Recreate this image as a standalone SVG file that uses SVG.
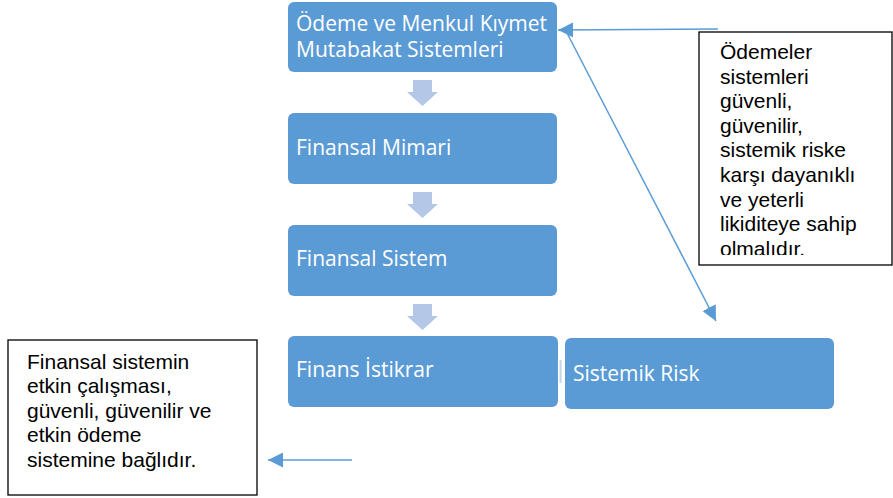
<svg xmlns="http://www.w3.org/2000/svg" width="893" height="498" viewBox="0 0 893 498">
  <style>
    .step { fill: #5B9BD5; }
    .step-label { fill: #FFFFFF; font-family: "Open Sans", "Noto Sans", sans-serif; font-size: 21px; }
    .note { fill: #FFFFFF; stroke: #000000; stroke-width: 1.3; }
    .note-text { fill: #000000; font-family: "Liberation Sans", Arial, sans-serif; font-size: 21px; }
    .flow { fill: #B4C7E7; }
    .link { stroke: #5B9BD5; stroke-width: 1.5; fill: none; }
  </style>
  <defs>
    <marker id="headBig" viewBox="0 0 10 10" refX="10" refY="5" markerWidth="15" markerHeight="15" markerUnits="userSpaceOnUse" orient="auto">
      <path d="M0,0 L10,5 L0,10 Z" fill="#5B9BD5"/>
    </marker>
    <clipPath id="noteClip">
      <rect x="700" y="33" width="192" height="222"/>
    </clipPath>
  </defs>

  <!-- main chain -->
  <g id="odeme-sistemleri">
    <rect class="step" x="288" y="2" width="269" height="70" rx="6"/>
    <text class="step-label" x="296" y="31">Ödeme ve Menkul Kıymet</text>
    <text class="step-label" x="296" y="57">Mutabakat Sistemleri</text>
  </g>
  <g id="finansal-mimari">
    <rect class="step" x="288" y="113" width="269" height="71" rx="6"/>
    <text class="step-label" x="296" y="155">Finansal Mimari</text>
  </g>
  <g id="finansal-sistem">
    <rect class="step" x="288" y="225" width="269" height="71" rx="6"/>
    <text class="step-label" x="296" y="266">Finansal Sistem</text>
  </g>
  <g id="finans-istikrar">
    <rect class="step" x="288" y="336" width="270" height="71" rx="6"/>
    <text class="step-label" x="296" y="377">Finans İstikrar</text>
  </g>
  <g id="sistemik-risk">
    <rect class="step" x="565" y="338" width="269" height="71" rx="6"/>
    <text class="step-label" x="573" y="381">Sistemik Risk</text>
  </g>

  <!-- notes -->
  <g id="not-odemeler">
    <rect class="note" x="699" y="32" width="193" height="233"/>
    <g clip-path="url(#noteClip)">
      <text class="note-text" x="720" y="59">Ödemeler</text>
      <text class="note-text" x="720" y="83.6">sistemleri</text>
      <text class="note-text" x="720" y="108.2">güvenli,</text>
      <text class="note-text" x="720" y="132.8">güvenilir,</text>
      <text class="note-text" x="720" y="157.4">sistemik riske</text>
      <text class="note-text" x="720" y="182">karşı dayanıklı</text>
      <text class="note-text" x="720" y="206.6">ve yeterli</text>
      <text class="note-text" x="720" y="231.2">likiditeye sahip</text>
      <text class="note-text" x="720" y="255.8">olmalıdır.</text>
    </g>
  </g>
  <g id="not-finansal-sistem">
    <rect class="note" x="8" y="340" width="249" height="155"/>
    <text class="note-text" x="27" y="369">Finansal sistemin</text>
    <text class="note-text" x="27" y="393">etkin çalışması,</text>
    <text class="note-text" x="27" y="418">güvenli, güvenilir ve</text>
    <text class="note-text" x="27" y="442">etkin ödeme</text>
    <text class="note-text" x="27" y="467">sistemine bağlıdır.</text>
  </g>

  <!-- connectors -->
  <g id="connectors">
    <path class="flow" d="M413,80 H432 V92 H438 L422.5,106 L407,92 H413 Z"/>
    <path class="flow" d="M413,192 H432 V204 H438 L422.5,218 L407,204 H413 Z"/>
    <path class="flow" d="M413,304 H432 V316 H438 L422.5,330 L407,316 H413 Z"/>
    <rect x="559.5" y="360" width="2" height="23" fill="#C9D3E6"/>
    <line class="link" x1="718" y1="29" x2="558" y2="30" marker-end="url(#headBig)"/>
    <line class="link" x1="567" y1="33" x2="716" y2="321" marker-end="url(#headBig)"/>
    <line class="link" x1="352" y1="460" x2="268" y2="460" marker-end="url(#headBig)"/>
  </g>
</svg>
